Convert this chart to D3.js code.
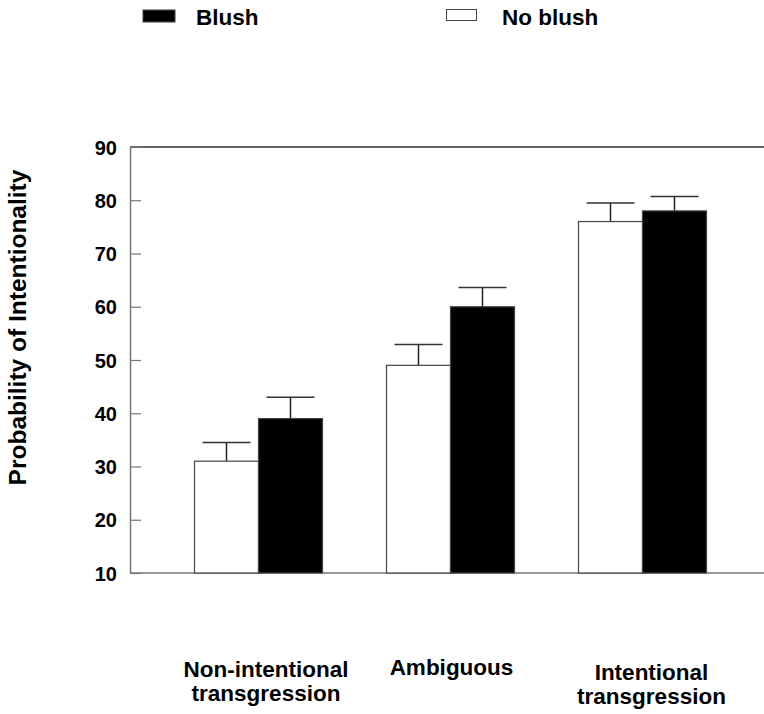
<!DOCTYPE html>
<html>
<head>
<meta charset="utf-8">
<script src="https://cdn.jsdelivr.net/npm/d3@7"></script>
<style>
  html, body { margin: 0; padding: 0; background: #fff; }
  svg { display: block; }
  text { font-family: "Liberation Sans", Arial, Helvetica, sans-serif; font-weight: bold; fill: #000; }
</style>
</head>
<body>
<svg id="chart" width="764" height="714"></svg>
<script>
// ---- data ----
const categories = ["Non-intentional transgression", "Ambiguous", "Intentional transgression"];
const categoryLines = [["Non-intentional", "transgression"], ["Ambiguous"], ["Intentional", "transgression"]];
const seriesNames = ["No blush", "Blush"];
const noBlushValues = [31, 49, 76];
const noBlushErrors = [3.5, 3.9, 3.5];
const blushValues = [39, 60, 78];
const blushErrors = [4.0, 3.6, 2.7];
const yTicks = [10, 20, 30, 40, 50, 60, 70, 80, 90];
const yTitle = "Probability of Intentionality";

// ---- layout ----
const svg = d3.select("#chart");
const plotLeft = 130, plotRight = 764, plotTop = 147, plotBottom = 573;
const labelDx = [7.5, 1, 9];         // label offset from group centre
const labelBaseY = [677, 675, 680];   // first-line baseline
const lineGap = 24;
const seriesFill = { "No blush": "#fff", "Blush": "#000" };

const y = d3.scaleLinear().domain([10, 90]).range([plotBottom, plotTop]);
const x0 = d3.scaleBand().domain(categories).range([162.5, 738.5])
  .paddingInner(1 / 3).paddingOuter(1 / 6);
const x1 = d3.scaleBand().domain(seriesNames).range([0, x0.bandwidth()]);

const rows = categories.map((c, i) => ({
  cat: c,
  bars: [
    { s: "No blush", v: noBlushValues[i], e: noBlushErrors[i] },
    { s: "Blush", v: blushValues[i], e: blushErrors[i] }
  ]
}));

// frame lines
svg.append("line").attr("x1", plotLeft).attr("x2", plotRight).attr("y1", plotTop).attr("y2", plotTop)
  .attr("stroke", "#333").attr("stroke-width", 1.5);
svg.append("line").attr("x1", plotLeft).attr("x2", plotRight).attr("y1", plotBottom).attr("y2", plotBottom)
  .attr("stroke", "#777").attr("stroke-width", 1.5);

// y axis with inward ticks
const yAxis = d3.axisLeft(y).tickValues(yTicks).tickSize(-11).tickPadding(13).tickSizeOuter(0);
const gy = svg.append("g").attr("transform", `translate(${plotLeft},0)`).call(yAxis);
gy.select(".domain").attr("stroke", "#777").attr("stroke-width", 1.5);
gy.selectAll(".tick line").attr("stroke", "#777").attr("stroke-width", 1.2);
gy.selectAll(".tick text")
  .style("font-family", "'Liberation Sans', Arial, sans-serif")
  .style("font-weight", "bold").style("font-size", "20px").attr("fill", "#000")
  .attr("dy", "0.35em");

// y title
svg.append("text")
  .attr("transform", `translate(26,327.5) rotate(-90)`)
  .attr("text-anchor", "middle")
  .style("font-size", "24.5px")
  .text(yTitle);

// bars
const groups = svg.append("g").selectAll("g").data(rows).join("g")
  .attr("transform", d => `translate(${x0(d.cat)},0)`);

// error bars (upper only)
groups.selectAll("line.err").data(d => d.bars).join("line")
  .attr("class", "err")
  .attr("x1", d => x1(d.s) + x1.bandwidth() / 2)
  .attr("x2", d => x1(d.s) + x1.bandwidth() / 2)
  .attr("y1", d => y(d.v))
  .attr("y2", d => y(d.v + d.e))
  .attr("stroke", "#222").attr("stroke-width", 1.5);
groups.selectAll("line.cap").data(d => d.bars).join("line")
  .attr("class", "cap")
  .attr("x1", d => x1(d.s) + x1.bandwidth() * 0.125)
  .attr("x2", d => x1(d.s) + x1.bandwidth() * 0.875)
  .attr("y1", d => y(d.v + d.e))
  .attr("y2", d => y(d.v + d.e))
  .attr("stroke", "#333").attr("stroke-width", 1.5);

groups.selectAll("rect").data(d => d.bars).join("rect")
  .attr("x", d => x1(d.s))
  .attr("y", d => y(d.v))
  .attr("width", x1.bandwidth())
  .attr("height", d => y(10) - y(d.v))
  .attr("fill", d => seriesFill[d.s])
  .attr("stroke", "#444").attr("stroke-width", 1.2);

// category labels
categories.forEach((c, i) => {
  const cx = x0(c) + x0.bandwidth() / 2 + labelDx[i];
  const t = svg.append("text").attr("text-anchor", "middle").style("font-size", "22.5px");
  categoryLines[i].forEach((ln, j) => {
    t.append("tspan").attr("x", cx).attr("y", labelBaseY[i] + j * lineGap).text(ln);
  });
});

// legend
const legendItems = [
  { s: "Blush", rx: 143, ry: 10, rw: 32, rh: 12, tx: 196 },
  { s: "No blush", rx: 446.5, ry: 9.5, rw: 30, rh: 11, tx: 502 }
];
const lg = svg.append("g").selectAll("g").data(legendItems).join("g");
lg.append("rect")
  .attr("x", d => d.rx).attr("y", d => d.ry).attr("width", d => d.rw).attr("height", d => d.rh)
  .attr("fill", d => seriesFill[d.s]).attr("stroke", "#444").attr("stroke-width", 1);
lg.append("text")
  .attr("x", d => d.tx).attr("y", 24.5)
  .style("font-size", "22.5px")
  .text(d => d.s);
</script>
</body>
</html>
